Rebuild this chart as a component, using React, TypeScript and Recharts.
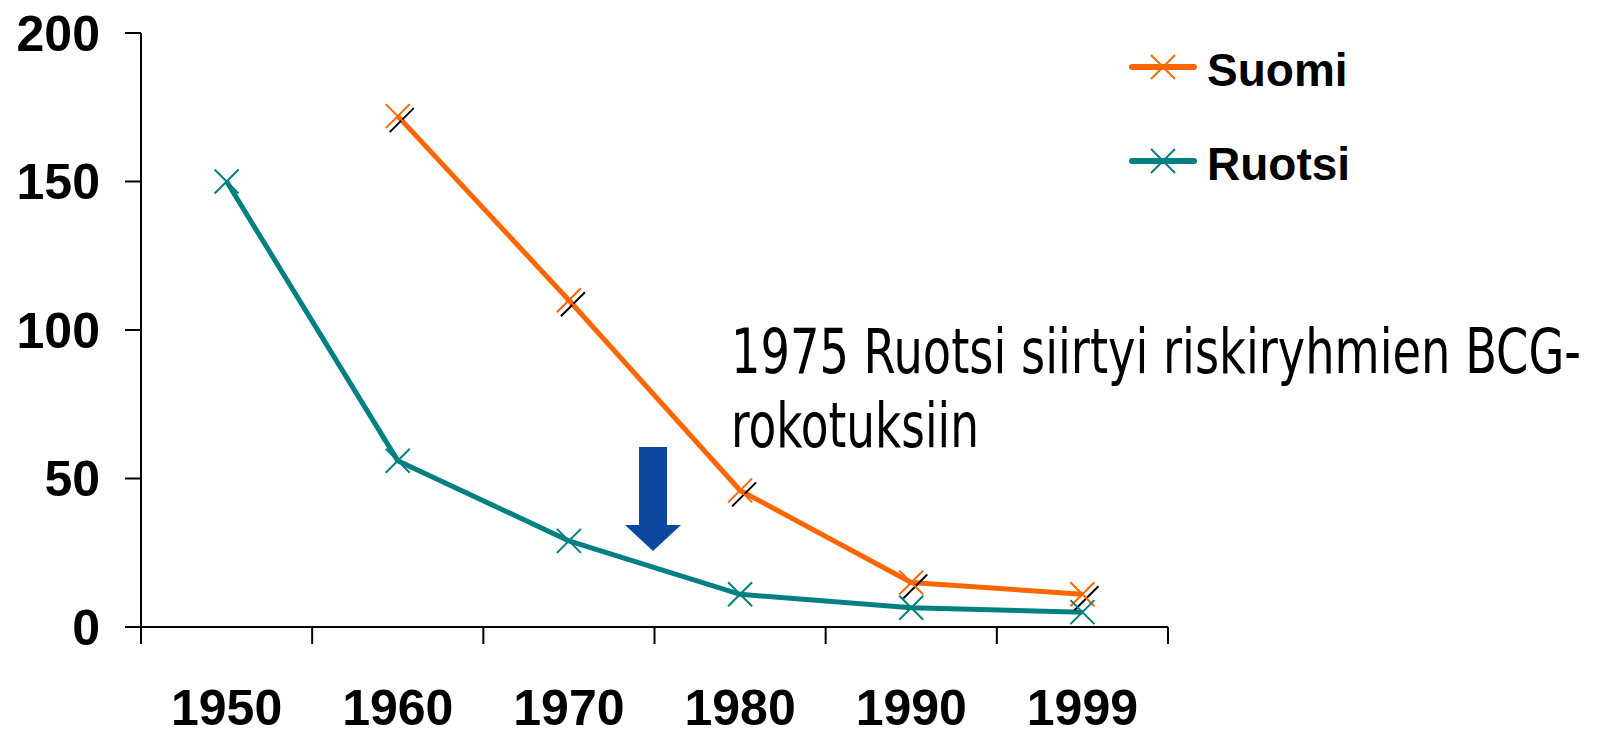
import React from 'react';
import { LineChart, Line, XAxis, YAxis, Legend } from 'recharts';

const years = ['1950', '1960', '1970', '1980', '1990', '1999'];
const suomi: (number | null)[] = [null, 172, 110, 46, 15, 11];
const ruotsi: number[] = [150, 56, 29, 11, 6.5, 5];
const yTicks = [0, 50, 100, 150, 200];
const seriesInfo = [
  { key: 'suomi', name: 'Suomi', color: '#FF6600' },
  { key: 'ruotsi', name: 'Ruotsi', color: '#008080' },
];
const noteLines = ['1975 Ruotsi siirtyi riskiryhmien BCG-', 'rokotuksiin'];

const data = years.map((y, i) => ({ year: y, suomi: suomi[i], ruotsi: ruotsi[i] }));

const FONT = "'Liberation Sans', Arial, sans-serif";
const NARROW = "'Liberation Sans Narrow', 'Arial Narrow', 'DejaVu Sans Condensed', 'Liberation Sans', sans-serif";
const TICK = 17;

const XMark = ({ cx, cy, color, r = 12 }: any) => (
  <g>
    <line x1={cx - r} y1={cy - r} x2={cx + r} y2={cy + r} stroke={color} strokeWidth={2} />
    <line x1={cx - r} y1={cy + r} x2={cx + r} y2={cy - r} stroke={color} strokeWidth={2} />
  </g>
);

const SuomiDot = (props: any) => {
  const { cx, cy, value } = props;
  if (value == null || cx == null || cy == null) return null;
  return (
    <g>
      <line x1={cx + 4 - 12} y1={cy + 4 + 12} x2={cx + 4 + 12} y2={cy + 4 - 12} stroke="#000" strokeWidth={2} />
      <XMark cx={cx} cy={cy} color="#FF6600" />
    </g>
  );
};

const RuotsiDot = (props: any) => {
  const { cx, cy, value } = props;
  if (value == null || cx == null || cy == null) return null;
  return <XMark cx={cx} cy={cy} color="#008080" />;
};

const XTick = (props: any) => {
  const { x, y, payload, index, visibleTicksCount } = props;
  const off = payload && payload.offset ? payload.offset : 0;
  const axisY = y - TICK;
  return (
    <g>
      <line x1={x - off} y1={axisY} x2={x - off} y2={axisY + TICK} stroke="#000" strokeWidth={2} />
      {index === visibleTicksCount - 1 && (
        <line x1={x + off} y1={axisY} x2={x + off} y2={axisY + TICK} stroke="#000" strokeWidth={2} />
      )}
      <text x={x} y={axisY + 98} textAnchor="middle" fontFamily={FONT} fontWeight="bold" fontSize={50} fill="#000">
        {payload.value}
      </text>
    </g>
  );
};

const renderLegend = () => (
  <div style={{ position: 'relative', width: 0, height: 0 }}>
    <svg width={1607} height={729} style={{ position: 'absolute', left: 0, top: 0, overflow: 'visible', pointerEvents: 'none' }}>
      {seriesInfo.map((s, i) => {
        const cy = 67 + i * 94;
        return (
          <g key={s.key}>
            <line x1={1132} y1={cy} x2={1194} y2={cy} stroke={s.color} strokeWidth={6} strokeLinecap="round" />
            <XMark cx={1163} cy={cy} color={s.color} />
            <text x={1207} y={cy + 19} fontFamily={FONT} fontWeight="bold" fontSize={46} fill="#000">
              {s.name}
            </text>
          </g>
        );
      })}
    </svg>
  </div>
);

export default function App() {
  return (
    <div style={{ position: 'absolute', left: 0, top: 0, width: 1607, height: 729, background: '#fff' }}>
      <LineChart width={1607} height={729} data={data} margin={{ top: 33, right: 439, bottom: 0, left: 0 }}>
        <XAxis
          dataKey="year"
          scale="band"
          height={102}
          tickLine={false}
          tickSize={TICK}
          tickMargin={0}
          axisLine={{ stroke: '#000', strokeWidth: 2 }}
          tick={<XTick />}
          interval={0}
        />
        <YAxis
          width={141}
          domain={[0, 200]}
          ticks={yTicks}
          tickSize={16}
          tickMargin={25}
          axisLine={{ stroke: '#000', strokeWidth: 2 }}
          tickLine={{ stroke: '#000', strokeWidth: 2 }}
          tick={{ fill: '#000', fontFamily: FONT, fontWeight: 'bold', fontSize: 50 }}
          interval={0}
        />
        <Legend content={renderLegend} wrapperStyle={{ left: 0, top: 0, width: 0, height: 0 }} />
        <Line
          type="linear"
          dataKey="suomi"
          name="Suomi"
          stroke="#FF6600"
          strokeWidth={5}
          dot={<SuomiDot />}
          activeDot={false}
          isAnimationActive={false}
        />
        <Line
          type="linear"
          dataKey="ruotsi"
          name="Ruotsi"
          stroke="#008080"
          strokeWidth={5}
          dot={<RuotsiDot />}
          activeDot={false}
          isAnimationActive={false}
        />
      </LineChart>
      <svg width={1607} height={729} style={{ position: 'absolute', left: 0, top: 0, pointerEvents: 'none' }}>
        <path d="M639,447 L667,447 L667,525 L681,525 L653,551 L625,525 L639,525 Z" fill="#0D48A0" />
        <text x={731} y={373} fontFamily={NARROW} fontSize={62} fill="#000" textLength={850} lengthAdjust="spacingAndGlyphs">
          {noteLines[0]}
        </text>
        <text x={731} y={447} fontFamily={NARROW} fontSize={62} fill="#000" textLength={248} lengthAdjust="spacingAndGlyphs">
          {noteLines[1]}
        </text>
      </svg>
    </div>
  );
}
